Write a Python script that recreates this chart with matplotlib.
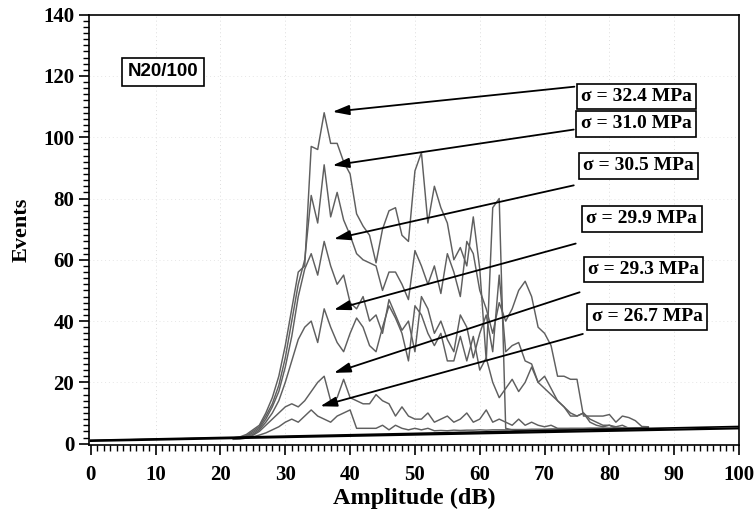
import numpy as np
import matplotlib
matplotlib.use("Agg")
import matplotlib.pyplot as plt
from matplotlib.ticker import MultipleLocator

# ---------------- data ----------------
amplitude = list(range(22, 87))

s_324 = [1.9, 2.2, 3, 4.5, 6, 10, 15, 22, 32, 44, 56, 58, 97, 96, 108, 98, 98, 92, 88, 75,
         71, 68, 59, 70, 76, 77, 68, 66, 89, 95, 72, 84, 77, 72, 60, 64, 58, 74, 57, 27,
         77, 80, 5, 4.5, 4.2, 4.3, 4.4, 4.3, 4.5, 4.4, 4.5, 4.6, 4.5, 4.6, 4.6, 4.7, 4.6, 4.7, 4.8, 4.7,
         4.8, 4.8, 4.9, 4.9, 5.0]
s_310 = [1.8, 2.0, 2.6, 4, 5.5, 9, 13, 19, 28, 40, 52, 60, 81, 72, 91, 74, 82, 73, 68, 62,
         60, 59, 58, 50, 56, 56, 52, 47, 63, 58, 52, 58, 49, 62, 56, 48, 66, 62, 50, 44,
         36, 46, 40, 44, 50, 53, 48, 38, 36, 32, 22, 22, 21, 21, 9, 9, 9, 9, 9.5, 7,
         9, 8.5, 7.5, 5.6, 5.5]
s_305 = [1.7, 1.9, 2.4, 3.5, 5, 8, 12, 17, 25, 35, 48, 57, 62, 55, 66, 58, 52, 55, 46, 44,
         48, 40, 42, 36, 47, 42, 37, 40, 30, 48, 44, 36, 40, 34, 30, 42, 38, 28, 36, 42,
         30, 55, 30, 32, 33, 27, 26, 20, 22, 18, 14, 12, 10, 9, 10, 8, 7, 6, 6, 5.5,
         6, 5, 5, 5, 5]
s_299 = [1.6, 1.8, 2.2, 3, 4.5, 7, 10, 14, 20, 27, 34, 38, 40, 33, 44, 38, 33, 30, 36, 41,
         38, 32, 30, 38, 45, 41, 36, 27, 45, 42, 36, 32, 36, 27, 27, 35, 27, 35, 24, 28,
         20, 15, 18, 21, 17, 20, 25, 20, 18, 16, 14, 12, 9, 9, 10, 7, 6, 5.5, 6, 5,
         5, 5, 5, 5, 5]
s_293 = [1.5, 1.7, 2, 2.7, 4, 6, 8, 10, 12, 13, 12, 14, 17, 20, 22, 14, 15, 21, 15, 14,
         13, 13, 16, 14, 13, 9, 12, 9, 8, 8, 10, 7, 8, 9, 7, 8, 10, 7, 8, 11,
         7, 8, 7, 6, 8, 6, 7, 6, 5.5, 6, 5, 5, 5, 5, 5, 5, 5, 5, 5, 5,
         5, 5, 5, 5, 5]
s_267 = [1.4, 1.5, 1.8, 2.2, 2.8, 3.5, 4.5, 5.5, 7, 8, 7, 9, 11, 9, 8, 7, 9, 10, 11, 5,
         5, 5, 5, 6, 4.5, 6, 5, 4.5, 5, 4.5, 5, 4.2, 4.3, 4.2, 4.4, 4.3, 4.4, 4.4, 4.5, 4.4,
         4.5, 4.5, 4.5, 4.6, 4.6, 4.6, 4.7, 4.7, 4.7, 4.8, 4.8, 4.8, 4.9, 4.9, 4.9, 5.0, 5.0, 5.0, 5.0, 5.1,
         5.1, 5.1, 5.2, 5.2, 5.2]

baseline_x = [0, 100]
baseline_lo = [0.9, 5.0]
baseline_hi = [1.1, 5.6]

labels = ["σ = 32.4 MPa", "σ = 31.0 MPa", "σ = 30.5 MPa",
          "σ = 29.9 MPa", "σ = 29.3 MPa", "σ = 26.7 MPa"]
label_pos = [(84.2, 113.3), (84.1, 104.4), (84.5, 90.7),
             (85.0, 73.4), (85.3, 56.8), (85.8, 41.4)]
arrow_tail = [(74.6, 116.5), (74.5, 102.5), (74.5, 84.3),
              (74.8, 65.3), (75.4, 49.4), (75.9, 35.8)]
arrow_tip = [(37.3, 108.3), (37.3, 90.8), (37.5, 66.8),
             (37.5, 43.7), (37.5, 23.1), (35.4, 12.2)]

# ---------------- figure ----------------
fig = plt.figure(figsize=(7.54, 5.15), dpi=100)
ax = fig.add_axes([0.1187, 0.135, 0.9802 - 0.1187, 0.9715 - 0.135])

serif = "Liberation Serif"

for x in range(10, 100, 10):
    ax.axvline(x, color="#dddddd", lw=0.7, ls=(0, (1, 3)), zorder=0)
for y in range(20, 140, 20):
    ax.axhline(y, color="#e6e6e6", lw=0.7, ls=(0, (1, 3)), zorder=0)

for s in [s_324, s_310, s_305, s_299, s_293, s_267]:
    ax.plot(amplitude, s, color="#5f5f5f", lw=1.05, zorder=2)

ax.plot(baseline_x, baseline_lo, color="black", lw=1.6, zorder=3)
ax.plot(baseline_x, baseline_hi, color="black", lw=1.2, zorder=3)

for lab, pos in zip(labels, label_pos):
    ax.text(pos[0], pos[1], lab, ha="center", va="center", fontsize=14,
            fontfamily=serif, fontweight="bold", zorder=5,
            bbox=dict(boxstyle="square,pad=0.22", fc="white", ec="black", lw=1.2))

for t, h in zip(arrow_tail, arrow_tip):
    ax.annotate("", xy=h, xytext=t, zorder=4,
                arrowprops=dict(arrowstyle="-|>,head_length=1.0,head_width=0.3",
                                color="black", lw=1.3, shrinkA=0, shrinkB=0))

ax.text(11.1, 121.4, "N20/100", ha="center", va="center", fontsize=13.5,
        fontfamily="Liberation Sans", fontweight="bold", zorder=5,
        bbox=dict(boxstyle="square,pad=0.3", fc="white", ec="black", lw=1.2))

ax.set_xlim(-0.2, 100)
ax.set_ylim(-0.6, 140)
ax.xaxis.set_major_locator(MultipleLocator(10))
ax.xaxis.set_minor_locator(MultipleLocator(1))
ax.yaxis.set_major_locator(MultipleLocator(20))
ax.yaxis.set_minor_locator(MultipleLocator(2))
ax.tick_params(which="major", direction="out", length=7, width=1.2, pad=4)
ax.tick_params(which="minor", direction="out", length=4, width=1.0)
ax.tick_params(axis="x", which="major", pad=7)
for lab in ax.get_xticklabels() + ax.get_yticklabels():
    lab.set_fontfamily(serif)
    lab.set_fontweight("bold")
    lab.set_fontsize(15)
for sp in ax.spines.values():
    sp.set_linewidth(1.2)

ax.set_xlabel("Amplitude (dB)", fontfamily=serif, fontweight="bold", fontsize=17.5, labelpad=2)
ax.set_ylabel("Events", fontfamily=serif, fontweight="bold", fontsize=16, labelpad=8)

fig.savefig("out.png", dpi=100)
